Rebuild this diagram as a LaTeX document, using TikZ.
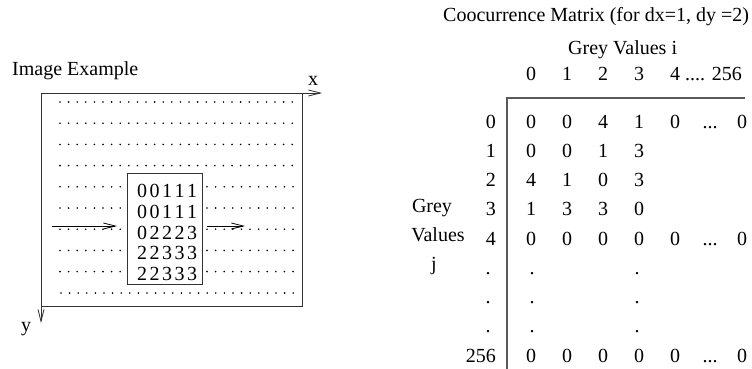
\documentclass[tikz,border=0pt]{standalone}
\usepackage{fontspec}
\setmainfont{Liberation Serif}
\usetikzlibrary{arrows.meta}
\newcommand\cellrow[5]{#1\kern2.5pt#2\kern2.5pt#3\kern2.5pt#4\kern2.5pt#5}
\begin{document}
\begin{tikzpicture}[x=1pt,y=-1pt,
  txt/.style={inner sep=0pt, font=\fontsize{20}{29}\selectfont},
  frame/.style={line width=0.9pt, draw=black!80},
  gridline/.style={line width=1.3pt, draw=black!65},
  dotrow/.style={line width=1.8pt, line cap=round, dash pattern=on 0pt off 8.6pt, draw=black},
  barb/.style={-{Straight Barb[length=12pt,width=6pt]}, line width=0.8pt}
]
\useasboundingbox (0,0) rectangle (752,369);

% ---------- image with x/y axes ----------
\node[txt, anchor=base west] (imgtitle) at (12,75) {Image Example};
\coordinate (O) at (41,93);
\coordinate (xend) at (322,93);
\coordinate (yend) at (41,323);
\coordinate (tr) at (302,93);
\coordinate (br) at (302,306);
\coordinate (bl) at (41,306);
\draw[frame] (tr) -- (br) -- (bl);
\draw[frame, barb] (O) -- (xend);
\draw[frame, barb] (O) -- (yend);
\node[txt] (xlab) at (313,81) {x};
\node[txt] (ylab) at (26,329) {y};

% rows of pixels
\foreach \k in {0,1,2,3}
  \draw[dotrow] (60,{102+21.2*\k}) -- (297,{102+21.2*\k});
\foreach \k in {4,...,8} {
  \draw[dotrow] (60,{102+21.2*\k}) -- (122,{102+21.2*\k});
  \draw[dotrow] (207,{102+21.2*\k}) -- (297,{102+21.2*\k});
}
\draw[dotrow] (61,293) -- (298,293);

% window of grey values
\draw[frame] (127,173) rectangle (202,284);
\node[txt, anchor=base] (w1) at (167,197.5) {\cellrow00111};
\node[txt, anchor=base] (w2) at (167,218)   {\cellrow00111};
\node[txt, anchor=base] (w3) at (167,239)   {\cellrow02223};
\node[txt, anchor=base] (w4) at (167,259.5) {\cellrow22333};
\node[txt, anchor=base] (w5) at (167,280)   {\cellrow22333};

\coordinate (la) at (52,226);
\coordinate (lb) at (117,226);
\coordinate (ra) at (207,226);
\coordinate (rb) at (245,226);
\draw[barb] (la) -- (lb);
\draw[barb] (ra) -- (rb);

% ---------- co-occurrence matrix ----------
\node[txt, anchor=base west] (mtitle) at (443,22) {Coocurrence Matrix (for dx=1, dy =2)};
\node[txt, anchor=base west] (gvi) at (568,55) {Grey Values i};

\node[txt, anchor=base] (h0) at (531,81) {0};
\node[txt, anchor=base] (h1) at (567,81) {1};
\node[txt, anchor=base] (h2) at (603,81) {2};
\node[txt, anchor=base] (h3) at (639,81) {3};
\node[txt, anchor=base west] (h4) at (670,81) {4 .... 256};

\coordinate (mc) at (507,98);
\coordinate (mr) at (745,98);
\coordinate (mb) at (507,369);
\draw[gridline] (mr) -- (mc) -- (mb);

\node[txt, anchor=base] (gj1) at (432,212) {Grey};
\node[txt, anchor=base] (gj2) at (438,241) {Values};
\node[txt, anchor=base] (gj3) at (434,270) {j};

% row labels
\node[txt, anchor=base east] (r0) at (496,128) {0};
\node[txt, anchor=base east] (r1) at (496,157.25) {1};
\node[txt, anchor=base east] (r2) at (496,186.5) {2};
\node[txt, anchor=base east] (r3) at (496,215.75) {3};
\node[txt, anchor=base east] (r4) at (496,245) {4};
\node[txt, anchor=base] (r5) at (488,274.25) {.};
\node[txt, anchor=base] (r6) at (488,303.5) {.};
\node[txt, anchor=base] (r7) at (488,332.75) {.};
\node[txt, anchor=base east] (r8) at (496,362) {256};

% entries
\foreach \r/\y/\vals in {0/128/{0,0,4,1,0},1/157.25/{0,0,1,3},2/186.5/{4,1,0,3},3/215.75/{1,3,3,0},4/245/{0,0,0,0,0},8/362/{0,0,0,0,0}}{
  \foreach \v [count=\c] in \vals
    \node[txt, anchor=base] (e\r-\c) at ({531+36*(\c-1)},\y) {\v};
}
\foreach \r/\y in {0/128,4/245,8/362}{
  \node[txt, anchor=base] (e\r-6) at (710,\y) {...};
  \node[txt, anchor=base] (e\r-7) at (742,\y) {0};
}
\foreach \r/\y in {5/274.25,6/303.5,7/332.75}{
  \node[txt, anchor=base] (e\r-1) at (532,\y) {.};
  \node[txt, anchor=base] (e\r-4) at (637,\y) {.};
}
\end{tikzpicture}
\end{document}
